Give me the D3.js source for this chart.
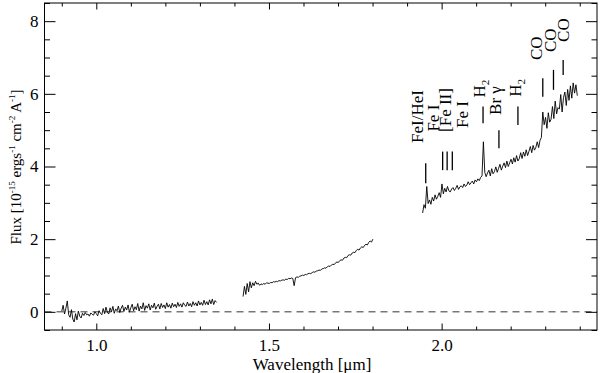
<!DOCTYPE html>
<html>
<head>
<meta charset="utf-8">
<script src="https://cdn.jsdelivr.net/npm/d3@7"></script>
<style>
    body { margin: 0; background: #fff; }
    text { font-family: 'Liberation Serif', serif; fill: #000; }
</style>
</head>
<body>
<div id="container"></div>
<script>
// spectrum segments: start wavelength, sampling step (micron) and flux values
var seg1Start = 0.900, seg1Step = 0.004
var seg1Flux = [0.02, 0.18, -0.06, 0.10, 0.30, -0.08, -0.15, 0.06, -0.20, -0.28,
    -0.05, -0.22, 0.02, -0.12, -0.17, -0.04, -0.10, -0.02, -0.08, -0.06,
    -0.12, -0.03, -0.07, -0.09, 0.00, -0.05, -0.11, 0.03, -0.04, -0.08,
    0.09, -0.05, 0.13, -0.01, -0.06, 0.11, 0.00, 0.15, -0.04, 0.08,
    0.03, 0.16, -0.02, 0.10, 0.18, 0.01, 0.13, 0.05, 0.19, -0.01,
    0.11, 0.21, 0.03, 0.14, 0.06, 0.23, 0.02, 0.16, 0.08, 0.25,
    0.04, 0.17, 0.10, 0.22, 0.05, 0.18, 0.11, 0.24, 0.07, 0.15,
    0.21, 0.08, 0.23, 0.12, 0.19, 0.09, 0.25, 0.13, 0.20, 0.10,
    0.24, 0.14, 0.21, 0.12, 0.26, 0.15, 0.22, 0.13, 0.25, 0.18,
    0.15, 0.27, 0.16, 0.23, 0.14, 0.28, 0.18, 0.25, 0.16, 0.30,
    0.19, 0.26, 0.18, 0.32, 0.20, 0.28, 0.19, 0.33, 0.22, 0.35,
    0.20, 0.31, 0.26]

var seg2Start = 1.425, seg2Step = 0.004
var seg2Flux = [0.42, 0.70, 0.48, 0.78, 0.55, 0.83, 0.66, 0.80, 0.72, 0.84,
    0.76, 0.79, 0.73, 0.77, 0.75, 0.78, 0.76, 0.80, 0.79, 0.78,
    0.81, 0.80, 0.83, 0.82, 0.84, 0.83, 0.86, 0.85, 0.87, 0.88,
    0.87, 0.90, 0.89, 0.92, 0.91, 0.93, 0.92, 0.72, 0.94, 0.96,
    0.95, 0.98, 0.99, 1.01, 1.00, 1.03, 1.02, 1.05, 1.06, 1.05,
    1.08, 1.10, 1.09, 1.12, 1.13, 1.15, 1.14, 1.18, 1.19, 1.21,
    1.20, 1.24, 1.26, 1.25, 1.29, 1.31, 1.30, 1.35, 1.37, 1.36,
    1.41, 1.43, 1.42, 1.48, 1.50, 1.49, 1.55, 1.57, 1.56, 1.62,
    1.64, 1.63, 1.69, 1.72, 1.70, 1.76, 1.79, 1.77, 1.83, 1.86,
    1.84, 1.91, 1.95, 1.92, 2.00]

var seg3Start = 1.945, seg3Step = 0.004
var seg3Flux = [2.72, 2.95, 2.85, 3.45, 2.98, 3.08, 2.96, 3.15, 3.05, 3.22,
    3.10, 3.18, 3.28, 3.15, 3.52, 3.25, 3.40, 3.30, 3.45, 3.33,
    3.30, 3.38, 3.42, 3.34, 3.40, 3.48, 3.37, 3.44, 3.47, 3.42,
    3.52, 3.45, 3.49, 3.58, 3.50, 3.55, 3.60, 3.52, 3.63, 3.58,
    3.66, 3.61, 3.70, 3.74, 4.68, 3.84, 3.72, 3.82, 3.90, 3.74,
    3.94, 3.80, 3.86, 3.99, 3.84, 3.95, 4.06, 3.90, 4.01, 4.10,
    3.97, 4.15, 4.00, 4.10, 4.20, 4.07, 4.24, 4.12, 4.30, 4.15,
    4.22, 4.38, 4.22, 4.40, 4.28, 4.46, 4.30, 4.42, 4.55, 4.38,
    4.58, 4.45, 4.53, 4.68, 4.52, 4.72, 4.80, 5.50, 5.15, 5.35,
    5.05, 5.48, 5.22, 5.30, 5.65, 5.32, 5.80, 5.45, 5.62, 5.58,
    5.98, 5.50, 5.90, 6.05, 5.68, 6.12, 5.82, 6.22, 5.88, 6.30,
    6.02, 6.25, 5.95]

// line identifications
var featureNames = ['FeI/HeI', 'Fe I', '[Fe II]', 'Fe I', 'H2', 'Br γ', 'H2', 'CO', 'CO', 'CO']
var featureWl = [1.954, 2.003, 2.016, 2.031, 2.120, 2.166, 2.221, 2.293, 2.324, 2.352]
var featureTop = [4.09, 4.41, 4.41, 4.41, 5.65, 5.00, 5.65, 6.43, 6.66, 6.93]
var featureBottom = [3.54, 3.90, 3.90, 3.90, 5.19, 4.50, 5.14, 5.92, 6.11, 6.52]
var labelWl = [1.946, 1.992, 2.027, 2.076, 2.125, 2.172, 2.229, 2.290, 2.330, 2.368]
var labelFlux = [4.65, 4.96, 4.95, 5.06, 5.90, 5.42, 5.92, 6.93, 7.15, 7.43]

// axis ticks
var xMajor = [1.0, 1.5, 2.0]
var xMinor = [0.9, 1.1, 1.2, 1.3, 1.4, 1.6, 1.7, 1.8, 1.9, 2.1, 2.2, 2.3, 2.4]
var yMajor = [0, 2, 4, 6, 8]
var yMinor = [-0.5, 0.5, 1, 1.5, 2.5, 3, 3.5, 4.5, 5, 5.5, 6.5, 7, 7.5, 8.5]

var width = 600, height = 373
var plotLeft = 44.5, plotRight = 597, plotTop = 3, plotBottom = 330
var serif = "'Liberation Serif', serif"

var x = d3.scaleLinear().domain([0.85, 2.45]).range([plotLeft, plotRight])
var y = d3.scaleLinear().domain([-0.5, 8.5]).range([plotBottom, plotTop])

var svg = d3
    .select('#container')
    .append('svg')
    .attr('width', width)
    .attr('height', height)

// zero level
svg.append('line')
    .attr('x1', plotLeft)
    .attr('x2', plotRight)
    .attr('y1', y(0))
    .attr('y2', y(0))
    .style('stroke', '#000')
    .style('stroke-width', 0.8)
    .style('stroke-dasharray', '7,5')

// spectrum
function segment(start, step, flux) {
    return flux.map(function(f, i) {
        return { wl: start + i * step, flux: f }
    })
}
var segments = [
    segment(seg1Start, seg1Step, seg1Flux),
    segment(seg2Start, seg2Step, seg2Flux),
    segment(seg3Start, seg3Step, seg3Flux)
]
var line = d3.line()
    .x(function(d) { return x(d.wl) })
    .y(function(d) { return y(d.flux) })

svg.append('g')
    .selectAll('path')
    .data(segments)
    .enter()
    .append('path')
    .attr('d', line)
    .style('fill', 'none')
    .style('stroke', '#000')
    .style('stroke-width', 0.9)
    .style('stroke-linejoin', 'round')

// feature markers
svg.append('g')
    .selectAll('line')
    .data(featureWl)
    .enter()
    .append('line')
    .attr('x1', function(d) { return x(d) })
    .attr('x2', function(d) { return x(d) })
    .attr('y1', function(d, i) { return y(featureTop[i]) })
    .attr('y2', function(d, i) { return y(featureBottom[i]) })
    .style('stroke', '#000')
    .style('stroke-width', 1.3)

var labels = svg.append('g')
    .selectAll('text')
    .data(featureNames)
    .enter()
    .append('text')
    .attr('transform', function(d, i) {
        return 'translate(' + x(labelWl[i]) + ',' + y(labelFlux[i]) + ') rotate(-90)'
    })
    .style('font-size', '17px')

labels.each(function(d) {
    var t = d3.select(this)
    if (d === 'H2') {
        t.append('tspan').text('H')
        t.append('tspan').attr('dy', 4).style('font-size', '11px').text('2')
    } else {
        t.text(d)
    }
})

// axes: major + minor ticks on all four sides, pointing inwards
function drawAxis(axis, tx, ty) {
    var g = svg.append('g')
        .attr('transform', 'translate(' + tx + ',' + ty + ')')
        .call(axis)
    g.select('.domain').remove()
    g.selectAll('text').style('font-family', serif).style('font-size', '17px').style('fill', '#000')
    g.selectAll('line').style('stroke', '#000')
    return g
}

var fmt = d3.format('.1f')
drawAxis(d3.axisBottom(x).tickValues(xMajor).tickSize(-6.5).tickPadding(9).tickFormat(fmt), 0, plotBottom)
drawAxis(d3.axisBottom(x).tickValues(xMinor).tickSize(-3.5).tickFormat(''), 0, plotBottom)
drawAxis(d3.axisTop(x).tickValues(xMajor).tickSize(-6.5).tickFormat(''), 0, plotTop)
drawAxis(d3.axisTop(x).tickValues(xMinor).tickSize(-3.5).tickFormat(''), 0, plotTop)
drawAxis(d3.axisLeft(y).tickValues(yMajor).tickSize(-11).tickPadding(6).tickFormat(d3.format('d')), plotLeft, 0)
drawAxis(d3.axisLeft(y).tickValues(yMinor).tickSize(-5.5).tickFormat(''), plotLeft, 0)
drawAxis(d3.axisRight(y).tickValues(yMajor).tickSize(-11).tickFormat(''), plotRight, 0)
drawAxis(d3.axisRight(y).tickValues(yMinor).tickSize(-5.5).tickFormat(''), plotRight, 0)

// frame
svg.append('rect')
    .attr('x', plotLeft)
    .attr('y', plotTop)
    .attr('width', plotRight - plotLeft)
    .attr('height', plotBottom - plotTop)
    .style('fill', 'none')
    .style('stroke', '#000')
    .style('stroke-width', 1)

// axis titles
svg.append('text')
    .attr('x', 312)
    .attr('y', 369.5)
    .attr('text-anchor', 'middle')
    .style('font-size', '17px')
    .text('Wavelength [μm]')

var ylab = svg.append('text')
    .attr('transform', 'translate(20.5,167) rotate(-90)')
    .attr('text-anchor', 'middle')
    .style('font-size', '15px')
ylab.append('tspan').text('Flux [10')
ylab.append('tspan').attr('dy', -6).style('font-size', '9px').text('-15')
ylab.append('tspan').attr('dy', 6).text(' ergs')
ylab.append('tspan').attr('dy', -6).style('font-size', '9px').text('-1')
ylab.append('tspan').attr('dy', 6).text(' cm')
ylab.append('tspan').attr('dy', -6).style('font-size', '9px').text('-2')
ylab.append('tspan').attr('dy', 6).text(' A')
ylab.append('tspan').attr('dy', -6).style('font-size', '9px').text('-1')
ylab.append('tspan').attr('dy', 6).text(']')
</script>
</body>
</html>
